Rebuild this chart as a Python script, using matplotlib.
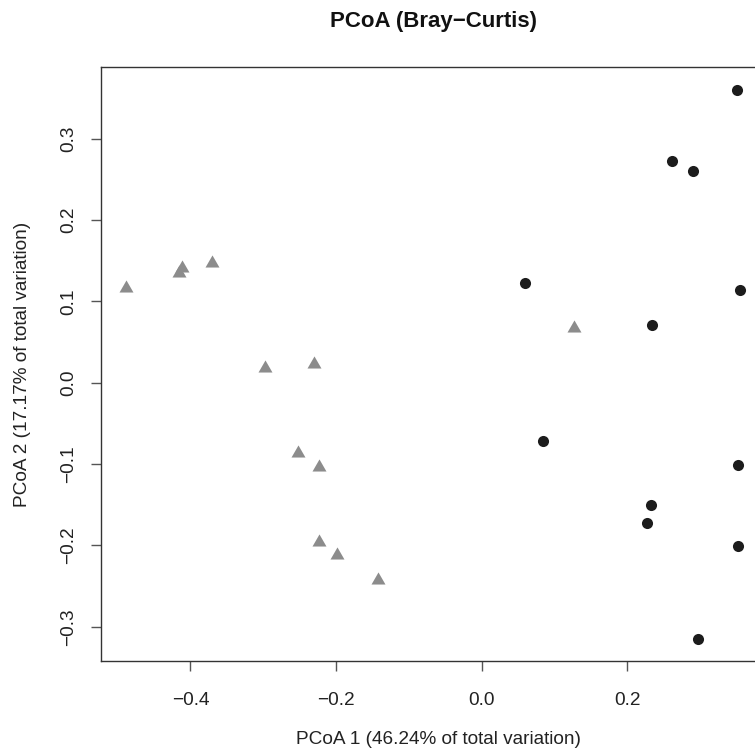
import matplotlib
matplotlib.use("Agg")
import matplotlib.pyplot as plt

plt.rcParams['font.family'] = ['Liberation Sans', 'DejaVu Sans']

# Group 1 (black circles)
circ_x = [0.351, 0.261, 0.290, 0.059, 0.355, 0.234, 0.084, 0.352, 0.232, 0.227, 0.352, 0.297]
circ_y = [0.360, 0.272, 0.260, 0.123, 0.114, 0.071, -0.072, -0.101, -0.150, -0.172, -0.201, -0.315]

# Group 2 (grey triangles)
tri_x = [-0.489, -0.416, -0.412, -0.371, -0.297, -0.231, -0.252, -0.223, -0.224, -0.199, -0.142, 0.127]
tri_y = [0.117, 0.135, 0.141, 0.147, 0.018, 0.023, -0.086, -0.103, -0.196, -0.212, -0.242, 0.067]

xticks = [-0.4, -0.2, 0.0, 0.2]
yticks = [-0.3, -0.2, -0.1, 0.0, 0.1, 0.2, 0.3]

title = "PCoA (Bray\u2212Curtis)"
xlab = "PCoA 1 (46.24% of total variation)"
ylab = "PCoA 2 (17.17% of total variation)"

fig = plt.figure(figsize=(7.55, 7.53), dpi=100)
ax = fig.add_axes([101/755, 1-661/753, (765-101)/755, (661-67)/753])

tri_marker = [(-1, -0.577), (1, -0.577), (0, 1.155)]
ax.scatter(tri_x, tri_y, marker=tri_marker, s=135, color='#8c8c8c', linewidths=0, zorder=3)
ax.scatter(circ_x, circ_y, marker='o', s=64, color='#1c1c1c', linewidths=0, zorder=3)

xmin, xmax = -0.489, 0.355
ymin, ymax = -0.315, 0.361
ax.set_xlim(xmin - 0.04*(xmax-xmin), xmax + 0.04*(xmax-xmin))
ax.set_ylim(ymin - 0.04*(ymax-ymin), ymax + 0.04*(ymax-ymin))

ax.set_xticks(xticks)
ax.set_xticklabels([f"{v:.1f}".replace('-', '\u2212') for v in xticks])
ax.set_yticks(yticks)
ax.set_yticklabels([f"{v:.1f}".replace('-', '\u2212') for v in yticks], rotation=90, va='center')

for sp in ax.spines.values():
    sp.set_color('#333333')
    sp.set_linewidth(1.0)
ax.tick_params(direction='out', length=7.5, width=1.0, color='#555555', labelsize=13.7,
               labelcolor='#222222')
ax.tick_params(axis='x', pad=14.5)
ax.tick_params(axis='y', pad=9.5)

fig.text(434/755, 1-22/753, title, ha='center', va='center', fontsize=16, fontweight='bold', color='#111111')
fig.text(438/755, 1-740/753, xlab, ha='center', va='center', fontsize=13.7, color='#222222')
fig.text(23/755, 1-364/753, ylab, ha='center', va='center', rotation=90, fontsize=13.7, color='#222222')

fig.savefig("out.png", dpi=100)
